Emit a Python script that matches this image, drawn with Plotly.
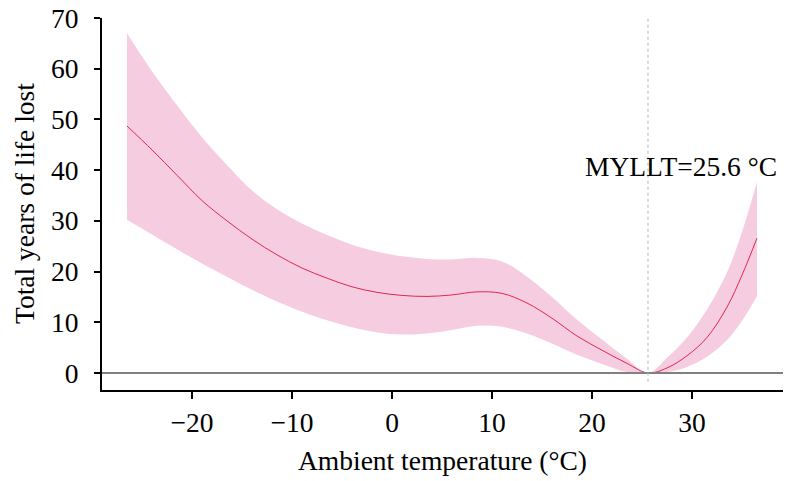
import plotly.graph_objects as go

temperature = [-26.5, -24, -21.5, -19, -16.5, -14, -11.5, -9, -6.5, -4, -1.5, 1, 3.5, 6,
               8.5, 11, 13.5, 16, 18.5, 21, 23.5, 25.6, 27.5, 29.5, 31.5, 33.5, 35, 36.5]
yll_center = [48.7, 44.0, 39.0, 34.0, 30.0, 26.4, 23.3, 20.7, 18.7, 17.0, 15.9, 15.3, 15.1, 15.4,
              16.0, 15.7, 13.8, 10.8, 7.3, 4.5, 1.9, 0.0, 1.0, 3.4, 7.0, 13.0, 19.3, 26.6]
yll_upper = [67.0, 59.5, 52.8, 46.5, 41.0, 36.0, 32.3, 29.5, 27.2, 25.3, 23.9, 23.0, 22.5, 22.4,
             22.7, 22.0, 19.0, 15.0, 10.5, 6.6, 2.8, 0.0, 3.0, 7.0, 12.5, 19.8, 27.8, 37.7]
yll_lower = [30.2, 27.3, 24.4, 21.6, 19.0, 16.4, 14.1, 12.1, 10.4, 9.0, 8.0, 7.6, 7.8, 8.5,
             9.3, 9.1, 7.8, 5.8, 3.6, 1.8, 0.2, 0.0, 0.2, 1.2, 3.2, 6.5, 10.3, 15.2]
mmt = 25.6
x_ticks = [-20, -10, 0, 10, 20, 30]
y_ticks = [0, 10, 20, 30, 40, 50, 60, 70]

FONT = "Liberation Serif"
FS = 27.5

fig = go.Figure()
fig.add_trace(go.Scatter(x=temperature, y=yll_upper, mode="lines",
                         line=dict(width=0, shape="spline"), showlegend=False, hoverinfo="skip"))
fig.add_trace(go.Scatter(x=temperature, y=yll_lower, mode="lines",
                         line=dict(width=0, shape="spline"), fill="tonexty",
                         fillcolor="#F6CCE0", showlegend=False, hoverinfo="skip"))
fig.add_trace(go.Scatter(x=temperature, y=yll_center, mode="lines",
                         line=dict(color="#E0284F", width=1, shape="spline"), showlegend=False))

fig.add_shape(type="line", xref="paper", yref="y", x0=0, x1=1, y0=0, y1=0,
              line=dict(color="#808080", width=2), layer="above")
fig.add_shape(type="line", xref="x", yref="y", x0=mmt, x1=mmt, y0=-1.7, y1=70,
              line=dict(color="#B4C6C6", width=1.2, dash="dot"), layer="above")

fig.add_annotation(x=mmt, y=40.7, xref="x", yref="y", text=f"MYLLT={mmt} °C",
                   showarrow=False, xanchor="center", yanchor="middle", xshift=33,
                   font=dict(family=FONT, size=FS, color="black"))

# axis titles
fig.add_annotation(x=0.5, y=0, xref="paper", yref="paper", text="Ambient temperature (°C)",
                   showarrow=False, xanchor="center", yanchor="middle", yshift=-70,
                   font=dict(family=FONT, size=FS, color="black"))
fig.add_annotation(x=0, y=0.5, xref="paper", yref="paper", text="Total years of life lost",
                   showarrow=False, xanchor="center", yanchor="middle", xshift=-78, textangle=-90,
                   font=dict(family=FONT, size=FS, color="black"))

fig.update_layout(
    width=794, height=481,
    margin=dict(l=102, r=11, t=18, b=91),
    paper_bgcolor="white", plot_bgcolor="white",
    font=dict(family=FONT, size=FS, color="black"),
    xaxis=dict(range=[-29, 39.1], tickvals=x_ticks,
               ticktext=[f"{v}".replace("-", "\u2212") for v in x_ticks],
               showline=True, linecolor="black", linewidth=2, ticks="outside", ticklen=7,
               tickwidth=1.5, tickcolor="black", showgrid=False, zeroline=False,
               automargin=False, ticklabelstandoff=0, tickfont=dict(size=FS)),
    yaxis=dict(range=[-3.35, 70], tickvals=y_ticks, showline=True, linecolor="black",
               linewidth=2, ticks="outside", ticklen=6, tickwidth=1.5, tickcolor="black",
               showgrid=False, zeroline=False, ticklabelstandoff=10, automargin=False,
               tickfont=dict(size=FS)),
)

fig.write_html("out.html", config={"displayModeBar": False},
               post_script="document.body.style.margin='0';document.body.style.overflow='hidden';")
